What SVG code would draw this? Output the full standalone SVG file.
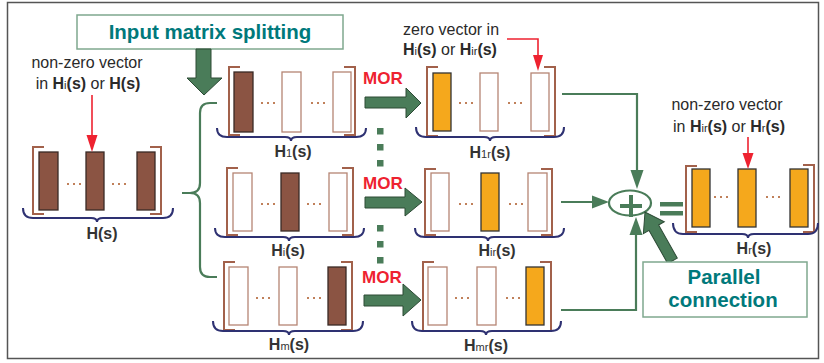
<svg xmlns="http://www.w3.org/2000/svg" width="824" height="363" viewBox="0 0 824 363">
<style>
text{font-family:"Liberation Sans",Arial,sans-serif;}
.lbl{font-size:16px;font-weight:bold;fill:#333;text-anchor:middle;}
.note{font-size:16px;fill:#2a2a2a;}
.b{font-weight:bold;}
.sub{font-size:11px;font-weight:normal;}
.mor{font-size:17px;font-weight:bold;fill:#ee2230;}
.title{font-size:20.5px;font-weight:bold;fill:#00797b;text-anchor:middle;}
.box{fill:#fff;stroke:#7fa88e;stroke-width:1.5;}
.brk{fill:none;stroke:#a2614b;stroke-width:2;}
.brace{fill:none;stroke:#2e3172;stroke-width:2;}
.full{fill:#8b5443;stroke:#3a2a25;stroke-width:1.3;}
.org{fill:#f5a81c;stroke:#333;stroke-width:1.3;}
.emp{fill:#fff;stroke:#b58573;stroke-width:1.3;}
.dots{fill:none;stroke:#c0805a;stroke-width:2;stroke-dasharray:2 4;}
.big{fill:#4a7c59;stroke:#2c4a35;stroke-width:1;}
.con{fill:none;stroke:#4a7c59;stroke-width:2.2;}
.ah{fill:#4a7c59;}
.red{fill:none;stroke:#ee2230;stroke-width:1.6;}
.rah{fill:#ee2230;}
.sq{fill:#4a7c59;}
</style>
<rect x="7.5" y="2.5" width="811" height="356" fill="#fff" stroke="#555" stroke-width="1.5"/>

<g id="title">
<rect class="box" x="77" y="15" width="266" height="34"/>
<text class="title" x="210" y="39">Input matrix splitting</text>
</g>
<g id="split-arrow">
<polygon class="big" points="196,49 211,49 211,78 222,78 204,95 187,78 196,78"/>
</g>

<g id="note-left">
<text class="note" x="87" y="68" text-anchor="middle">non-zero vector</text>
<text class="note" x="88" y="89" text-anchor="middle">in <tspan class="b">H</tspan><tspan class="sub">i</tspan><tspan class="b">(s)</tspan> or <tspan class="b">H(s)</tspan></text>
</g>
<g id="note-mid">
<text class="note" x="403" y="35">zero vector in</text>
<text class="note" x="403" y="55"><tspan class="b">H</tspan><tspan class="sub">i</tspan><tspan class="b">(s)</tspan> or <tspan class="b">H</tspan><tspan class="sub">ir</tspan><tspan class="b">(s)</tspan></text>
</g>
<g id="note-right">
<text class="note" x="727" y="110" text-anchor="middle">non-zero vector</text>
<text class="note" x="729" y="132" text-anchor="middle">in <tspan class="b">H</tspan><tspan class="sub">ir</tspan><tspan class="b">(s)</tspan> or <tspan class="b">H</tspan><tspan class="sub">r</tspan><tspan class="b">(s)</tspan></text>
</g>

<g id="H">
<path class="brk" d="M44,147 H33 V214 H44 M150,147 H161 V214 H150"/>
<rect class="full" x="39" y="152" width="19" height="58"/>
<rect class="full" x="86" y="152" width="18" height="58"/>
<rect class="full" x="137" y="152" width="18" height="58"/>
<path class="dots" d="M67,184 H81 M112,184 H126"/>
<path class="brace" d="M23,208 Q23,218 33,218 H91 Q97,218 97,222 Q97,218 103,218 H163 Q173,218 173,208"/>
<text class="lbl" x="102" y="239">H(s)</text>
</g>

<g id="H1">
<path class="brk" d="M240,67 H229 V135 H240 M344,67 H355 V135 H344"/>
<rect class="full" x="234" y="72" width="19" height="60"/>
<rect class="emp" x="282" y="72" width="19" height="60"/>
<rect class="emp" x="333" y="72" width="18" height="60"/>
<path class="dots" d="M261,103 H275 M311,103 H325"/>
<path class="brace" d="M217,128 Q217,137 227,137 H285 Q291,137 291,141 Q291,137 297,137 H356 Q366,137 366,128"/>
<text class="lbl" x="293" y="157">H<tspan class="sub">1</tspan>(s)</text>
</g>

<g id="Hi">
<path class="brk" d="M238,168 H227 V235 H238 M342,168 H353 V235 H342"/>
<rect class="emp" x="233" y="173" width="19" height="58"/>
<rect class="full" x="281" y="173" width="18" height="58"/>
<rect class="emp" x="329" y="173" width="18" height="58"/>
<path class="dots" d="M261,204 H275 M307,204 H321"/>
<path class="brace" d="M215,228 Q215,237 225,237 H283 Q289,237 289,241 Q289,237 295,237 H354 Q364,237 364,228"/>
<text class="lbl" x="288" y="256">H<tspan class="sub">i</tspan>(s)</text>
</g>

<g id="Hm">
<path class="brk" d="M235,262 H224 V330 H235 M341,262 H352 V330 H341"/>
<rect class="emp" x="229" y="267" width="19" height="58"/>
<rect class="emp" x="279" y="267" width="18" height="58"/>
<rect class="full" x="328" y="267" width="18" height="58"/>
<path class="dots" d="M256,298 H270 M307,298 H321"/>
<path class="brace" d="M213,321 Q213,331 223,331 H283 Q289,331 289,335 Q289,331 295,331 H353 Q363,331 363,321"/>
<text class="lbl" x="289" y="350">H<tspan class="sub">m</tspan>(s)</text>
</g>

<g id="H1r">
<path class="brk" d="M438,67 H427 V136 H438 M544,67 H555 V136 H544"/>
<rect class="org" x="433" y="73" width="18" height="58"/>
<rect class="emp" x="480" y="73" width="18" height="58"/>
<rect class="emp" x="531" y="73" width="18" height="58"/>
<path class="dots" d="M459,103 H473 M508,103 H522"/>
<path class="brace" d="M416,127 Q416,137 426,137 H484 Q490,137 490,141 Q490,137 496,137 H554 Q564,137 564,127"/>
<text class="lbl" x="490" y="158">H<tspan class="sub">1r</tspan>(s)</text>
</g>

<g id="Hir">
<path class="brk" d="M436,169 H425 V235 H436 M541,169 H552 V235 H541"/>
<rect class="emp" x="431" y="173" width="18" height="58"/>
<rect class="org" x="481" y="173" width="18" height="58"/>
<rect class="emp" x="528" y="173" width="19" height="58"/>
<path class="dots" d="M459,204 H473 M509,204 H523"/>
<path class="brace" d="M415,228 Q415,237 425,237 H482 Q488,237 488,241 Q488,237 494,237 H554 Q564,237 564,228"/>
<text class="lbl" x="497" y="256">H<tspan class="sub">ir</tspan>(s)</text>
</g>

<g id="Hmr">
<path class="brk" d="M434,262 H423 V331 H434 M540,262 H551 V331 H540"/>
<rect class="emp" x="428" y="267" width="19" height="58"/>
<rect class="emp" x="477" y="267" width="19" height="58"/>
<rect class="org" x="526" y="267" width="18" height="58"/>
<path class="dots" d="M455,298 H469 M506,298 H520"/>
<path class="brace" d="M412,321 Q412,331 422,331 H480 Q486,331 486,335 Q486,331 492,331 H551 Q561,331 561,321"/>
<text class="lbl" x="486" y="351">H<tspan class="sub">mr</tspan>(s)</text>
</g>

<g id="Hr">
<path class="brk" d="M697,166 H686 V232 H697 M803,165 H814 V232 H803"/>
<rect class="org" x="692" y="169" width="18" height="58"/>
<rect class="org" x="738" y="169" width="18" height="58"/>
<rect class="org" x="790" y="169" width="18" height="58"/>
<path class="dots" d="M714,197 H728 M766,197 H780"/>
<path class="brace" d="M673,223 Q673,234 683,234 H742 Q748,234 748,238 Q748,234 754,234 H808 Q818,234 818,223"/>
<text class="lbl" x="754" y="254">H<tspan class="sub">r</tspan>(s)</text>
</g>

<g id="sum">
<ellipse cx="630" cy="203" rx="21" ry="12.5" fill="#fff" stroke="#4a7c59" stroke-width="2.2"/>
<path d="M620,206 H642 M631,195 V217" stroke="#4a7c59" stroke-width="4" fill="none"/>
</g>
<g id="equals">
<rect x="660" y="202" width="23" height="4.5" class="sq"/>
<rect x="660" y="211" width="23" height="4.5" class="sq"/>
</g>

<g id="parallel">
<polygon class="big" transform="translate(645,212) rotate(-119.4)" points="0,0 -18,-12 -18,-5.5 -56,-5.5 -56,5.5 -18,5.5 -18,12"/>
<rect class="box" x="643" y="262" width="164" height="55"/>
<text class="title" x="724" y="284">Parallel</text>
<text class="title" x="723" y="307">connection</text>
</g>

<g id="connectors">
<path class="con" d="M217,103 H210 Q200,103 200,113 V183 Q200,193 190,193 H182 M190,193 Q200,193 200,203 V267 Q200,277 210,277 H217"/>
<polygon class="big" points="365,97 406,97 406,88 421,103 406,118 406,108 365,108"/>
<polygon class="big" points="365,197 405,197 405,188 422,202 405,216 405,208 365,208"/>
<polygon class="big" points="364,295 403,295 403,284 421,300 403,316 403,306 364,306"/>
<text class="mor" x="363" y="84">MOR</text>
<text class="mor" x="363" y="189">MOR</text>
<text class="mor" x="362" y="283">MOR</text>
<rect class="sq" x="377" y="128" width="6.5" height="6.5"/>
<rect class="sq" x="377" y="144" width="6.5" height="6.5"/>
<rect class="sq" x="377" y="160" width="6.5" height="6.5"/>
<rect class="sq" x="377" y="225" width="6.5" height="6.5"/>
<rect class="sq" x="377" y="241" width="6.5" height="6.5"/>
<rect class="sq" x="377" y="257" width="6.5" height="6.5"/>
<path class="con" d="M562,94 H637 V172"/>
<polygon class="ah" points="630.5,170 643.5,170 637,189"/>
<path class="con" d="M561,202 H594"/>
<polygon class="ah" points="592,195.5 592,208.5 609,202"/>
<path class="con" d="M561,310 H636 V234"/>
<polygon class="ah" points="629.5,235 642.5,235 636,217"/>
<path class="red" d="M92,95 V137"/>
<polygon class="rah" points="86.5,135 97.5,135 92,152"/>
<path class="red" d="M507,39 H538 V57"/>
<polygon class="rah" points="533,55 543,55 538,71"/>
<path class="red" d="M748,137 V155"/>
<polygon class="rah" points="742.5,153 753.5,153 748,169"/>
</g>
</svg>
